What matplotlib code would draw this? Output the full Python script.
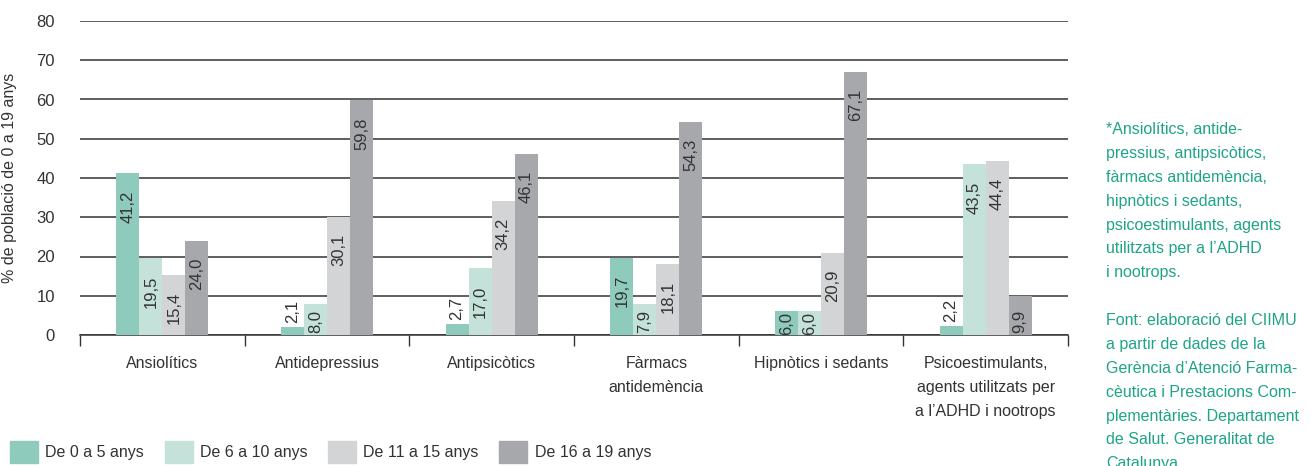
import numpy as np
import matplotlib
matplotlib.use("Agg")
import matplotlib.pyplot as plt
from matplotlib.patches import Patch

plt.rcParams['font.family'] = ['Liberation Sans', 'DejaVu Sans']

categories = ["Ansiolítics", "Antidepressius", "Antipsicòtics",
              "Fàrmacs\nantidemència", "Hipnòtics i sedants",
              "Psicoestimulants,\nagents utilitzats per\na l’ADHD i nootrops"]
groups = ["De 0 a 5 anys", "De 6 a 10 anys", "De 11 a 15 anys", "De 16 a 19 anys"]
age_0_5 = [41.2, 2.1, 2.7, 19.7, 6.0, 2.2]
age_6_10 = [19.5, 8.0, 17.0, 7.9, 6.0, 43.5]
age_11_15 = [15.4, 30.1, 34.2, 18.1, 20.9, 44.4]
age_16_19 = [24.0, 59.8, 46.1, 54.3, 67.1, 9.9]
colors = ["#8fcbbc", "#c4e2d9", "#d3d4d6", "#a7a8ab"]

note = ("*Ansiolítics, antide-\npressius, antipsicòtics,\nfàrmacs antidemència,\n"
        "hipnòtics i sedants,\npsicoestimulants, agents\nutilitzats per a l’ADHD\n"
        "i nootrops.\n\nFont: elaboració del CIIMU\na partir de dades de la\n"
        "Gerència d’Atenció Farma-\ncèutica i Prestacions Com-\nplementàries. Departament\n"
        "de Salut. Generalitat de\nCatalunya.")

dark = "#333333"
fig = plt.figure(figsize=(13.11, 4.66), dpi=100)
ax = fig.add_axes([80/1311, 1-335/466, (1068-80)/1311, 314/466])

series = [age_0_5, age_6_10, age_11_15, age_16_19]
x = np.arange(len(categories))
w = 0.14
for j, vals in enumerate(series):
    ax.bar(x + (j - 1.5) * w, vals, width=w, color=colors[j], zorder=3)

ax.set_xlim(-0.5, len(categories) - 0.5)
ax.set_ylim(0, 80)
ax.set_yticks(range(0, 81, 10))
ax.yaxis.grid(True, color=dark, linewidth=1.1, zorder=0)
ax.tick_params(axis='y', length=0, pad=18, labelsize=12, labelcolor=dark)
for s in ["left", "right", "top"]:
    ax.spines[s].set_visible(False)
ax.spines["bottom"].set_color(dark)
ax.spines["bottom"].set_linewidth(1.1)
ax.set_xticks(np.arange(-0.5, len(categories)), minor=True)
ax.set_xticks(x)
ax.set_xticklabels(categories, fontsize=11.5, color=dark, linespacing=1.75, va='top')
ax.tick_params(axis='x', which='major', length=0, pad=15)
ax.tick_params(axis='x', which='minor', length=8, width=1, color=dark)
ax.set_ylabel("% de població de 0 a 19 anys", fontsize=11.5, color=dark, labelpad=14)

# value labels: inside the bar near the top, above it if the bar is too short
fig.canvas.draw()
r = fig.canvas.get_renderer()
ppu = ax.get_window_extent().height / 80
for j, vals in enumerate(series):
    for xi, v in zip(x + (j - 1.5) * w, vals):
        lab = f"{v:.1f}".replace(".", ",")
        t = ax.annotate(lab, (xi, v), xytext=(0, -17), textcoords='offset pixels',
                        rotation=90, ha='center', va='top', fontsize=12,
                        color=dark, zorder=4)
        h = t.get_window_extent(r).height
        bar_h = v * ppu
        if h > bar_h + 4:
            t.set_va('bottom')
            t.xyann = (0, 4)
        else:
            t.xyann = (0, -max(1, min(17, bar_h - h - 2)))

handles = [Patch(color=c) for c in colors]
fig.legend(handles, groups, loc='lower left', bbox_to_anchor=(10/1311, 3/466),
           ncol=4, frameon=False, fontsize=11.5, handlelength=1.75, handleheight=1.75,
           handletextpad=0.45, columnspacing=1.3, borderpad=0, borderaxespad=0,
           labelcolor=dark)

fig.text(1106/1311, 1-122/466, note, fontsize=11.5, color="#1ea486",
         va='top', ha='left', linespacing=1.74)

fig.savefig("out.png", dpi=100)
